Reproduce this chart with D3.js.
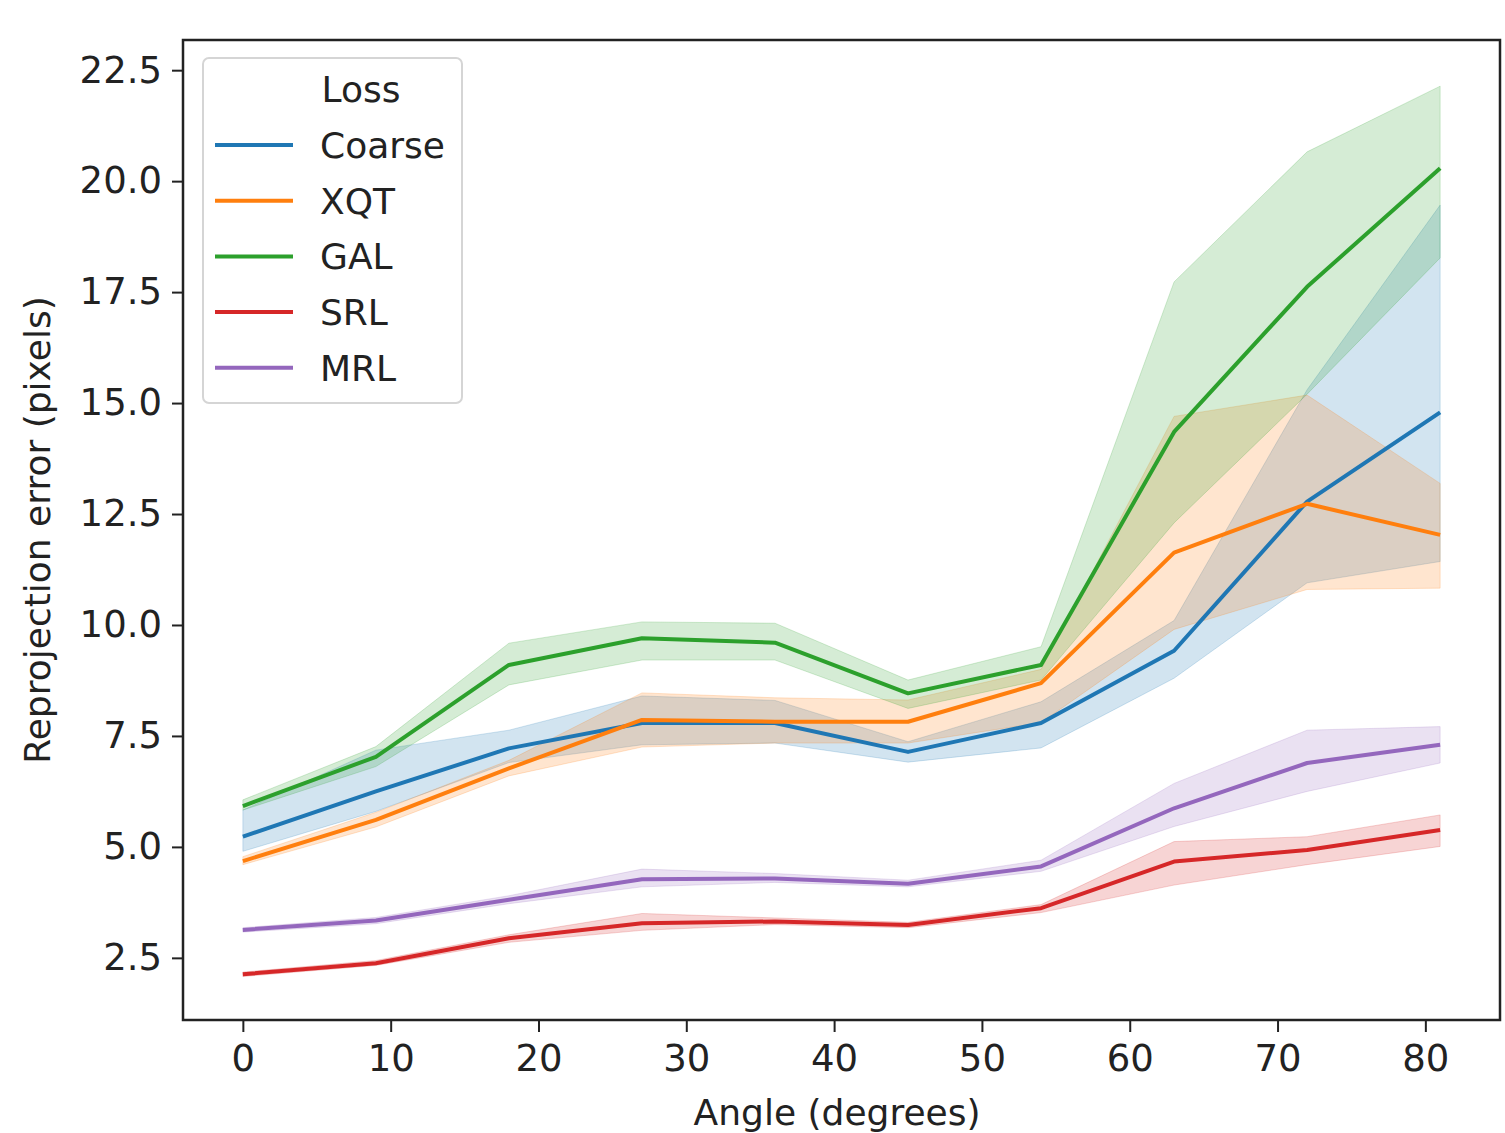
<!DOCTYPE html>
<html>
<head>
<meta charset="utf-8">
<script src="https://cdn.jsdelivr.net/npm/d3@7"></script>
<style>
  body { margin: 0; background: #fff; }
  svg { display: block; font-family: "DejaVu Sans", sans-serif; }
</style>
</head>
<body>
<div id="chart"></div>
<script>
// angles sampled in the experiment
const angles = [0, 9, 18, 27, 36, 45, 54, 63, 72, 81]

const losses = ["Coarse", "XQT", "GAL", "SRL", "MRL"]
const colors = ["#1f77b4", "#ff7f0e", "#2ca02c", "#d62728", "#9467bd"]

// mean reprojection error per loss
const coarseMean = [5.23, 6.25, 7.22, 7.79, 7.79, 7.14, 7.79, 9.42, 12.78, 14.79]
const xqtMean    = [4.68, 5.61, 6.77, 7.86, 7.82, 7.82, 8.69, 11.63, 12.73, 12.03]
const galMean    = [5.92, 7.03, 9.10, 9.70, 9.60, 8.46, 9.10, 14.35, 17.62, 20.29]
const srlMean    = [2.13, 2.38, 2.94, 3.28, 3.32, 3.24, 3.62, 4.67, 4.93, 5.38]
const mrlMean    = [3.13, 3.34, 3.81, 4.27, 4.29, 4.17, 4.56, 5.87, 6.89, 7.30]

// confidence interval, lower / upper
const coarseLo = [4.90, 5.80, 6.90, 7.30, 7.34, 6.91, 7.23, 8.80, 10.95, 11.43]
const coarseHi = [5.83, 7.18, 7.63, 8.40, 8.30, 7.37, 8.27, 10.10, 15.30, 19.46]
const xqtLo    = [4.60, 5.45, 6.60, 7.25, 7.34, 7.34, 7.80, 9.90, 10.80, 10.83]
const xqtHi    = [4.78, 5.78, 6.95, 8.47, 8.36, 8.31, 9.00, 14.70, 15.18, 13.19]
const galLo    = [5.83, 6.81, 8.65, 9.21, 9.21, 8.12, 8.76, 12.30, 15.20, 18.27]
const galHi    = [6.06, 7.26, 9.59, 10.07, 10.04, 8.76, 9.51, 17.73, 20.66, 22.14]
const srlLo    = [2.08, 2.33, 2.85, 3.12, 3.25, 3.18, 3.52, 4.14, 4.60, 5.01]
const srlHi    = [2.18, 2.44, 3.02, 3.50, 3.40, 3.30, 3.70, 5.12, 5.23, 5.72]
const mrlLo    = [3.08, 3.27, 3.72, 4.10, 4.20, 4.10, 4.45, 5.46, 6.25, 6.89]
const mrlHi    = [3.18, 3.41, 3.90, 4.50, 4.40, 4.25, 4.70, 6.43, 7.63, 7.71]

const xTicks = [0, 10, 20, 30, 40, 50, 60, 70, 80]
const yTicks = [2.5, 5.0, 7.5, 10.0, 12.5, 15.0, 17.5, 20.0, 22.5]

const means = [coarseMean, xqtMean, galMean, srlMean, mrlMean]
const lows = [coarseLo, xqtLo, galLo, srlLo, mrlLo]
const highs = [coarseHi, xqtHi, galHi, srlHi, mrlHi]

const width = 1505
const height = 1133
const margin = { top: 40, right: 5, bottom: 113, left: 183 }
const innerW = width - margin.left - margin.right
const innerH = height - margin.top - margin.bottom

const series = losses.map((name, i) => ({
  name,
  color: colors[i],
  values: angles.map((a, j) => ({ x: a, y: means[i][j], lo: lows[i][j], hi: highs[i][j] }))
}))

const x = d3.scaleLinear().domain([-4.05, 85.05]).range([0, innerW])
const y = d3.scaleLinear().domain([1.10, 23.18]).range([innerH, 0])

const svg = d3.select("#chart")
  .append("svg")
  .attr("width", width)
  .attr("height", height)

const g = svg.append("g")
  .attr("transform", `translate(${margin.left},${margin.top})`)

// bands first, all lines on top (like matplotlib zorder)
const area = d3.area()
  .x(d => x(d.x))
  .y0(d => y(d.lo))
  .y1(d => y(d.hi))

g.append("g")
  .selectAll("path")
  .data(series)
  .join("path")
  .attr("d", d => area(d.values))
  .attr("fill", d => d.color)
  .attr("fill-opacity", 0.2)
  .attr("stroke", d => d.color)
  .attr("stroke-opacity", 0.2)
  .attr("stroke-width", 1)

const line = d3.line()
  .x(d => x(d.x))
  .y(d => y(d.y))

g.append("g")
  .selectAll("path")
  .data(series)
  .join("path")
  .attr("d", d => line(d.values))
  .attr("fill", "none")
  .attr("stroke", d => d.color)
  .attr("stroke-width", 4)
  .attr("stroke-linejoin", "round")

// axes
const xAxis = g.append("g")
  .attr("transform", `translate(0,${innerH})`)
  .call(d3.axisBottom(x).tickValues(xTicks).tickSize(12).tickPadding(13).tickFormat(d3.format("d")))

const yAxis = g.append("g")
  .call(d3.axisLeft(y).tickValues(yTicks).tickSize(11).tickPadding(10).tickFormat(d3.format(".1f")))

for (const ax of [xAxis, yAxis]) {
  ax.select(".domain").remove()
  ax.selectAll(".tick line").attr("stroke", "#222").attr("stroke-width", 2)
  ax.selectAll(".tick text")
    .attr("fill", "#222")
    .style("font-size", "37px")
    .style("font-family", "DejaVu Sans, sans-serif")
}

// frame
g.append("rect")
  .attr("width", innerW)
  .attr("height", innerH)
  .attr("fill", "none")
  .attr("stroke", "#222")
  .attr("stroke-width", 2.5)

// axis labels
svg.append("text")
  .attr("x", margin.left + x(40.2))
  .attr("y", 1125)
  .attr("text-anchor", "middle")
  .attr("fill", "#222")
  .style("font-size", "36px")
  .text("Angle (degrees)")

svg.append("text")
  .attr("transform", `translate(50,${margin.top + innerH / 2}) rotate(-90)`)
  .attr("text-anchor", "middle")
  .attr("fill", "#222")
  .style("font-size", "36px")
  .text("Reprojection error (pixels)")

// legend
const legend = svg.append("g").attr("transform", "translate(203,58)")

legend.append("rect")
  .attr("width", 259)
  .attr("height", 345)
  .attr("rx", 6)
  .attr("fill", "#fff")
  .attr("fill-opacity", 0.8)
  .attr("stroke", "#d5d5d5")
  .attr("stroke-width", 2)

legend.append("text")
  .attr("x", 158)
  .attr("y", 44)
  .attr("text-anchor", "middle")
  .attr("fill", "#222")
  .style("font-size", "36px")
  .text("Loss")

const entry = legend.selectAll("g.entry")
  .data(series)
  .join("g")
  .attr("class", "entry")
  .attr("transform", (d, i) => `translate(0,${87 + i * 55.7})`)

entry.append("line")
  .attr("x1", 12)
  .attr("x2", 90)
  .attr("stroke", d => d.color)
  .attr("stroke-width", 4)

entry.append("text")
  .attr("x", 117)
  .attr("y", 13)
  .attr("fill", "#222")
  .style("font-size", "36px")
  .text(d => d.name)
</script>
</body>
</html>
